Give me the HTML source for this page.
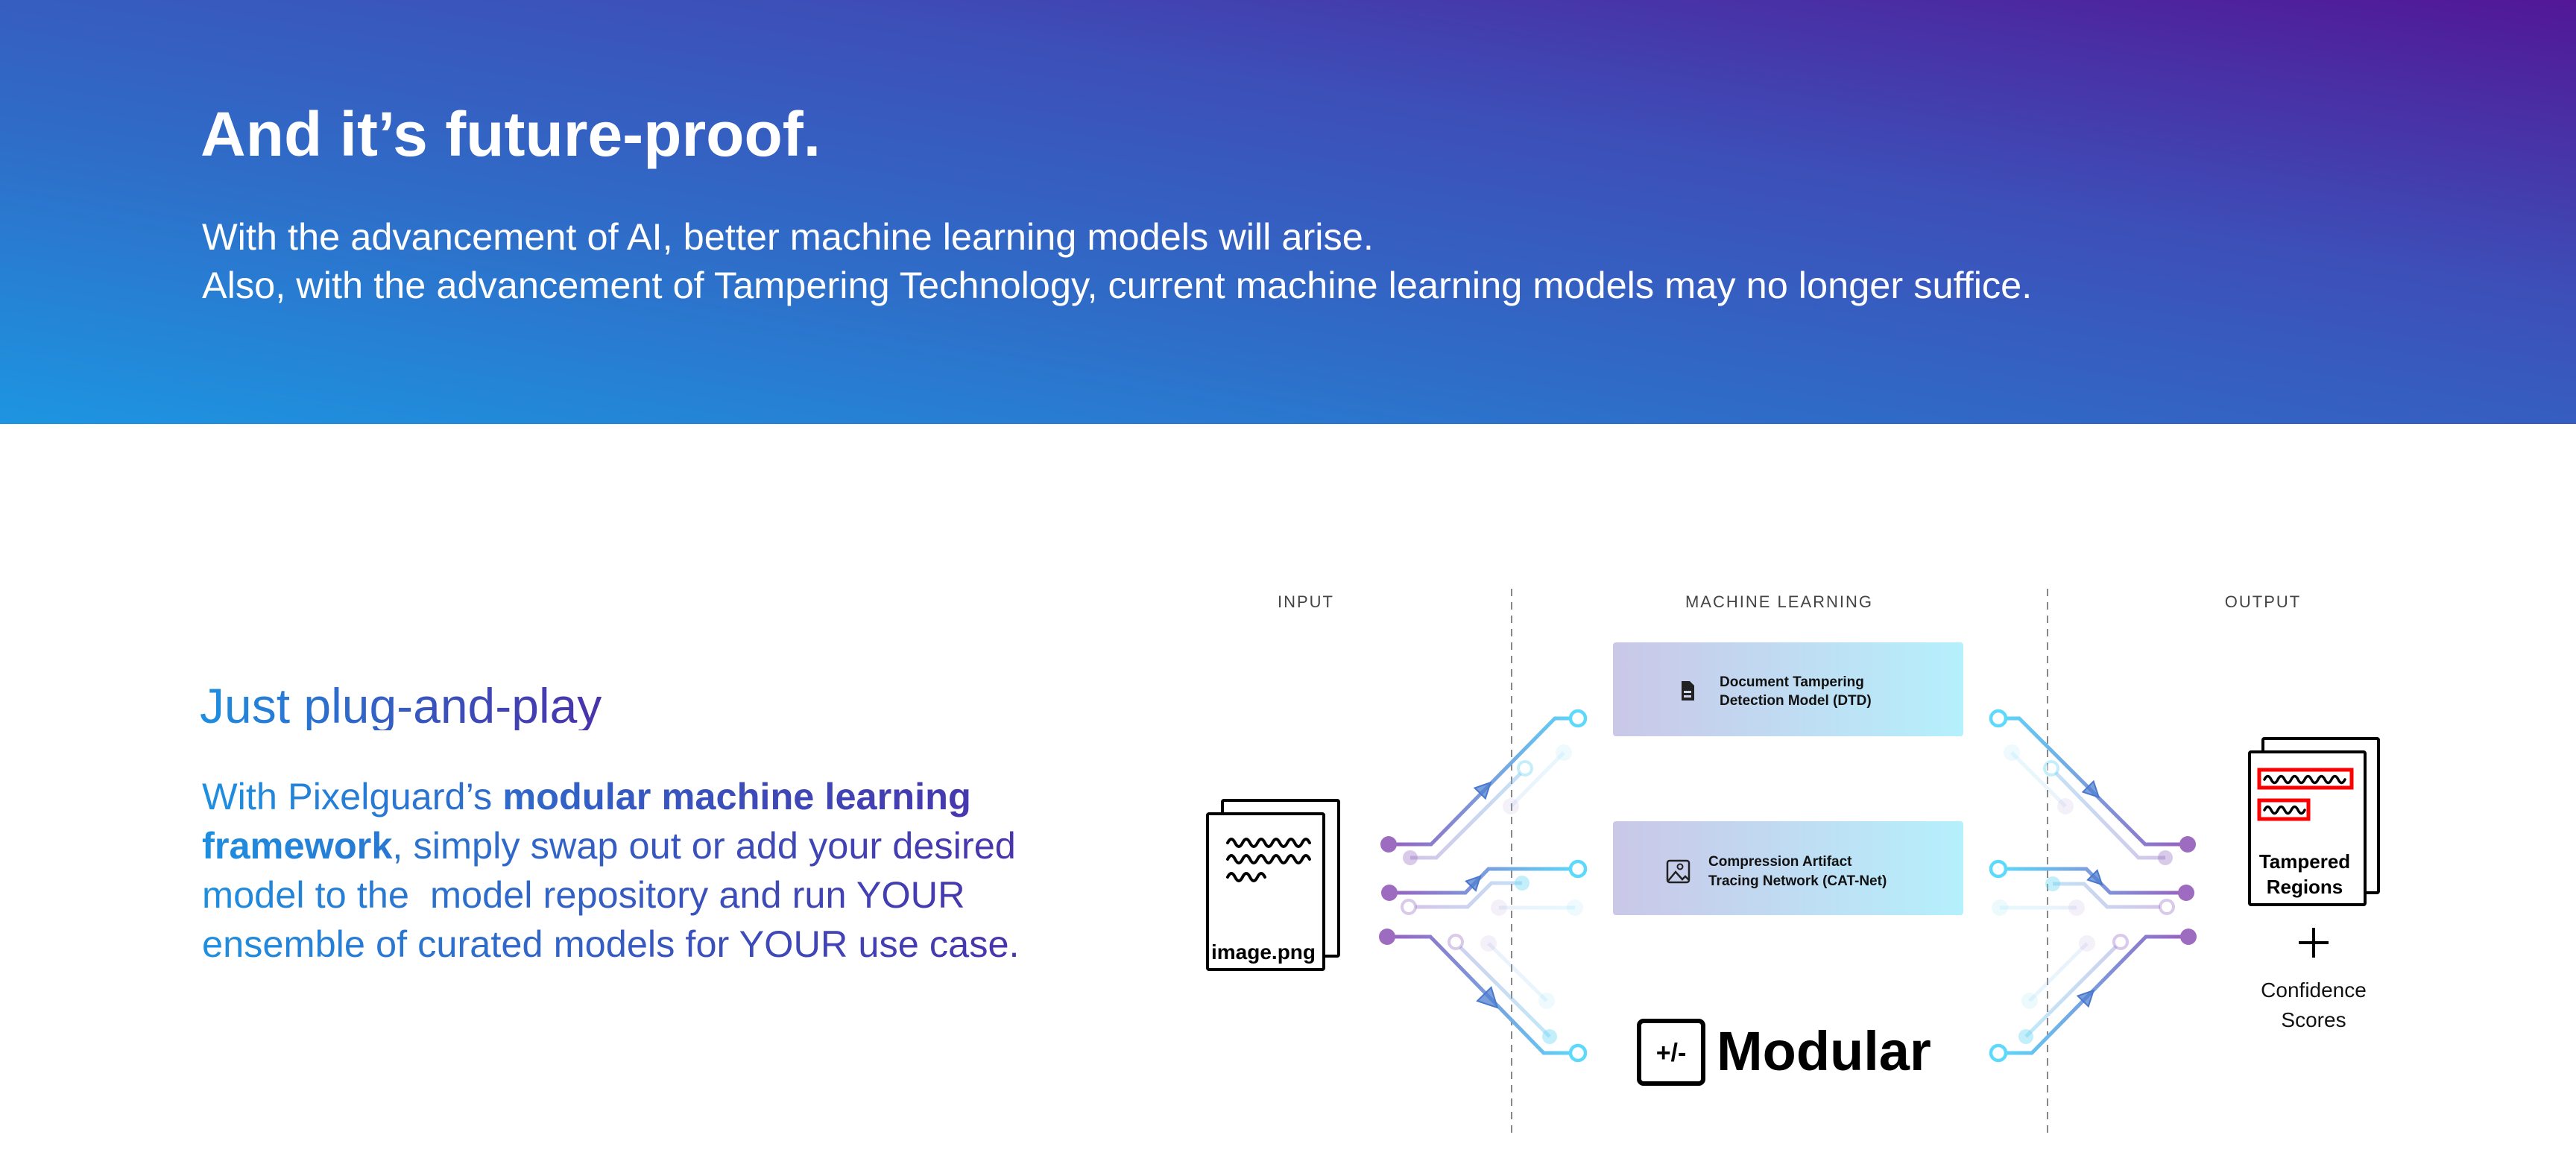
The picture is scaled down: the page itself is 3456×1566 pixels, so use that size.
<!DOCTYPE html>
<html><head><meta charset="utf-8"><style>
html,body{margin:0;padding:0;width:3456px;height:1566px;overflow:hidden;background:#fff;font-family:"Liberation Sans",sans-serif;}
.hdr{position:absolute;left:0;top:0;width:3456px;height:569px;background:linear-gradient(to top right,#1d95e0 0%,#2f6cc8 35%,#3d4fb8 65%,#521796 100%);}
.t{position:absolute;white-space:nowrap;line-height:1;}
.g{background:linear-gradient(90deg,#1e8fe0,#3d4ab8 60%,#4d2aa6);-webkit-background-clip:text;background-clip:text;color:transparent;}
</style></head><body>
<div class="hdr"></div>
<div class="t" style="left:269px;top:138px;font-size:84px;font-weight:bold;color:#fff;">And it’s future-proof.</div>
<div class="t" style="left:271px;top:293px;font-size:50.5px;color:#fff;">With the advancement of AI, better machine learning models will arise.</div>
<div class="t" style="left:271px;top:358px;font-size:50.5px;color:#fff;">Also, with the advancement of Tampering Technology, current machine learning models may no longer suffice.</div>

<div class="t g" style="left:268px;top:914px;font-size:66px;width:600px;">Just plug-and-play</div>
<div class="t g" style="left:271px;top:1036px;font-size:50.5px;line-height:66px;width:1240px;white-space:normal;">
With Pixelguard’s <b>modular machine learning</b><br><b>framework</b>, simply swap out or add your desired<br>model to the&nbsp; model repository and run YOUR<br>ensemble of curated models for YOUR use case.</div>

<svg width="3456" height="1566" viewBox="0 0 3456 1566" style="position:absolute;left:0;top:0" font-family="Liberation Sans, sans-serif">
<defs>
<linearGradient id="gl" gradientUnits="userSpaceOnUse" x1="1860" y1="0" x2="2120" y2="0"><stop offset="0" stop-color="#9a5fc0"/><stop offset="1" stop-color="#5cd9fb"/></linearGradient>
<linearGradient id="gr" gradientUnits="userSpaceOnUse" x1="2680" y1="0" x2="2935" y2="0"><stop offset="0" stop-color="#5cd9fb"/><stop offset="1" stop-color="#9a5fc0"/></linearGradient>
<linearGradient id="bx" x1="0" y1="0" x2="1" y2="0"><stop offset="0" stop-color="#cac7e7"/><stop offset="1" stop-color="#b5f0fd"/></linearGradient>
</defs>
<g font-size="22" fill="#444" text-anchor="middle" letter-spacing="2">
<text x="1752" y="815">INPUT</text>
<text x="2387" y="815">MACHINE LEARNING</text>
<text x="3036" y="815">OUTPUT</text>
</g>
<line x1="2028" y1="790" x2="2028" y2="1521" stroke="#888" stroke-width="2" stroke-dasharray="10 8"/>
<line x1="2747" y1="790" x2="2747" y2="1521" stroke="#888" stroke-width="2" stroke-dasharray="10 8"/>

<rect x="2164" y="862" width="470" height="126" rx="4" fill="url(#bx)"/>
<rect x="2164" y="1102" width="470" height="126" rx="4" fill="url(#bx)"/>
<path d="M2256,914 h11 l6,6 v20 h-17 z" fill="#222"/>
<rect x="2259" y="927" width="10" height="3" fill="#cfd6ee"/><rect x="2259" y="933" width="10" height="3" fill="#cfd6ee"/>
<g font-size="19" font-weight="bold" fill="#111">
<text x="2307" y="921">Document Tampering</text>
<text x="2307" y="946">Detection Model (DTD)</text>
<text x="2292" y="1162">Compression Artifact</text>
<text x="2292" y="1188">Tracing Network (CAT-Net)</text>
</g>
<rect x="2237" y="1155" width="29" height="29" rx="3" fill="none" stroke="#222" stroke-width="2.5"/>
<circle cx="2254" cy="1163" r="3.5" fill="none" stroke="#222" stroke-width="2"/>
<path d="M2238,1182 l10,-12 l9,10 l4,-4 l5,5" fill="none" stroke="#222" stroke-width="2.5"/>

<rect x="2199" y="1370" width="86" height="84" rx="6" fill="none" stroke="#000" stroke-width="6"/>
<text x="2242" y="1424" font-size="34" font-weight="bold" text-anchor="middle">+/-</text>
<text x="2303" y="1436" font-size="74" font-weight="bold">Modular</text>

<rect x="1640" y="1074" width="156" height="209" fill="#fff" stroke="#000" stroke-width="4" rx="2"/>
<rect x="1620" y="1092" width="156" height="209" fill="#fff" stroke="#000" stroke-width="4" rx="2"/>
<g fill="none" stroke="#000" stroke-width="4" stroke-linecap="round">
<path d="M1647,1131 q5,-10 10,0 t10,0 t10,0 t10,0 t10,0 t10,0 t10,0 t10,0 t10,0 t10,0 t10,0"/>
<path d="M1647,1153 q5,-10 10,0 t10,0 t10,0 t10,0 t10,0 t10,0 t10,0 t10,0 t10,0 t10,0 t10,0"/>
<path d="M1647,1177 q5,-10 10,0 t10,0 t10,0 t10,0 t10,0"/>
</g>
<text x="1695" y="1287" font-size="28" font-weight="bold" text-anchor="middle">image.png</text>

<rect x="3036" y="991" width="155" height="207" fill="#fff" stroke="#000" stroke-width="4" rx="2"/>
<rect x="3018" y="1009" width="155" height="205" fill="#fff" stroke="#000" stroke-width="4" rx="2"/>
<rect x="3031" y="1033" width="124" height="24" fill="none" stroke="#f00" stroke-width="5"/>
<rect x="3031" y="1074" width="66" height="25" fill="none" stroke="#f00" stroke-width="5"/>
<g fill="none" stroke="#000" stroke-width="3.5" stroke-linecap="round">
<path d="M3038,1046 q4.5,-9 9,0 t9,0 t9,0 t9,0 t9,0 t9,0 t9,0 t9,0 t9,0 t9,0 t9,0 t9,0"/>
<path d="M3038,1087 q4.5,-9 9,0 t9,0 t9,0 t9,0 t9,0 t9,0"/>
</g>
<g font-size="26" font-weight="bold" text-anchor="middle">
<text x="3092" y="1165">Tampered</text><text x="3092" y="1199">Regions</text></g>
<path d="M3084,1265 h40 M3104,1245 v40" stroke="#000" stroke-width="4"/>
<g font-size="28" text-anchor="middle" fill="#111"><text x="3104" y="1338">Confidence</text><text x="3104" y="1378">Scores</text></g>

<g fill="none" stroke-width="5">
<g opacity="0.15" stroke="url(#gl)">
<path d="M2027,1082 L2098,1010"/><path d="M2011,1218 H2113"/><path d="M1997,1266 L2075,1343"/>
</g>
<g opacity="0.15"><circle cx="2027" cy="1082" r="11" fill="#b8a0d8" stroke="none"/><circle cx="2098" cy="1010" r="11" fill="#8ee0f8" stroke="none"/>
<circle cx="2011" cy="1218" r="11" fill="#b8a0d8" stroke="none"/><circle cx="2113" cy="1218" r="11" fill="#8ee0f8" stroke="none"/>
<circle cx="1997" cy="1266" r="11" fill="#b8a0d8" stroke="none"/><circle cx="2075" cy="1343" r="11" fill="#8ee0f8" stroke="none"/></g>
<g opacity="0.4" stroke="url(#gl)">
<path d="M1892,1151 H1927 L2040,1038"/><path d="M1899,1217 H1969 L2001,1185 H2042"/><path d="M1959,1271 L2079,1391"/>
</g>
<g opacity="0.4">
<circle cx="1892" cy="1151" r="10" fill="#a07cc8" stroke="none"/><circle cx="2046" cy="1031" r="9" stroke="#6ad6f5" stroke-width="4" fill="#fff"/>
<circle cx="1890" cy="1217" r="9" stroke="#a07cc8" stroke-width="4" fill="#fff"/><circle cx="2042" cy="1185" r="10" fill="#6ad6f5" stroke="none"/>
<circle cx="1953" cy="1264" r="9" stroke="#a07cc8" stroke-width="4" fill="#fff"/><circle cx="2079" cy="1391" r="10" fill="#6ad6f5" stroke="none"/>
</g>
<g stroke="url(#gl)">
<path d="M1863,1133 H1920 L2086,964 H2108"/><path d="M1864,1198 H1966 L1997,1166 H2108"/><path d="M1861,1257 H1919 L2071,1413 H2108"/>
</g>
<g fill="#9d6cc0" stroke="none"><circle cx="1863" cy="1133" r="11"/><circle cx="1864" cy="1198" r="11"/><circle cx="1861" cy="1257" r="11"/></g>
<g stroke="#5cd9fb" stroke-width="4.5" fill="#fff"><circle cx="2117" cy="964" r="10"/><circle cx="2117" cy="1166" r="10"/><circle cx="2117" cy="1413" r="10"/></g>
</g>

<g fill="none" stroke-width="5">
<g opacity="0.15" stroke="url(#gr)">
<path d="M2699,1010 L2771,1082"/><path d="M2683,1218 H2786"/><path d="M2723,1343 L2800,1266"/>
</g>
<g opacity="0.15" stroke="none"><circle cx="2699" cy="1010" r="11" fill="#8ee0f8"/><circle cx="2771" cy="1082" r="11" fill="#b8a0d8"/>
<circle cx="2683" cy="1218" r="11" fill="#8ee0f8"/><circle cx="2786" cy="1218" r="11" fill="#b8a0d8"/>
<circle cx="2723" cy="1343" r="11" fill="#8ee0f8"/><circle cx="2800" cy="1266" r="11" fill="#b8a0d8"/></g>
<g opacity="0.4" stroke="url(#gr)">
<path d="M2758,1037 L2869,1151 H2905"/><path d="M2754,1186 H2796 L2827,1217 H2898"/><path d="M2718,1391 L2839,1270"/>
</g>
<g opacity="0.4">
<circle cx="2752" cy="1031" r="9" stroke="#6ad6f5" stroke-width="4" fill="#fff"/><circle cx="2905" cy="1151" r="10" fill="#a07cc8" stroke="none"/>
<circle cx="2754" cy="1186" r="10" fill="#6ad6f5" stroke="none"/><circle cx="2907" cy="1217" r="9" stroke="#a07cc8" stroke-width="4" fill="#fff"/>
<circle cx="2718" cy="1391" r="10" fill="#6ad6f5" stroke="none"/><circle cx="2845" cy="1264" r="9" stroke="#a07cc8" stroke-width="4" fill="#fff"/>
</g>
<g stroke="url(#gr)">
<path d="M2691,964 H2709 L2878,1133 H2935"/><path d="M2691,1166 H2799 L2831,1198 H2933"/><path d="M2691,1413 H2726 L2879,1257 H2936"/>
</g>
<g fill="#9d6cc0" stroke="none"><circle cx="2935" cy="1133" r="11"/><circle cx="2933" cy="1198" r="11"/><circle cx="2936" cy="1257" r="11"/></g>
<g stroke="#5cd9fb" stroke-width="4.5" fill="#fff"><circle cx="2681" cy="964" r="10"/><circle cx="2681" cy="1166" r="10"/><circle cx="2681" cy="1413" r="10"/></g>
</g>

<g fill="#4f7fd0" fill-opacity="0.75" stroke="#4a78cc" stroke-width="2">
<polygon points="-9,-10 11,0 -9,10" transform="translate(1992,1058) rotate(-45.5)"/>
<polygon points="-8,-9 10,0 -8,9" transform="translate(1979,1183) rotate(-46)"/>
<polygon points="-11,-13 14,0 -11,13" transform="translate(1999,1342) rotate(45.7)"/>
<polygon points="-9,-10 11,0 -9,10" transform="translate(2808,1062) rotate(45)"/>
<polygon points="-8,-9 10,0 -8,9" transform="translate(2813,1180) rotate(45)"/>
<polygon points="-9,-10 11,0 -9,10" transform="translate(2801,1337) rotate(-45.6)"/>
</g>
</svg>
</body></html>
